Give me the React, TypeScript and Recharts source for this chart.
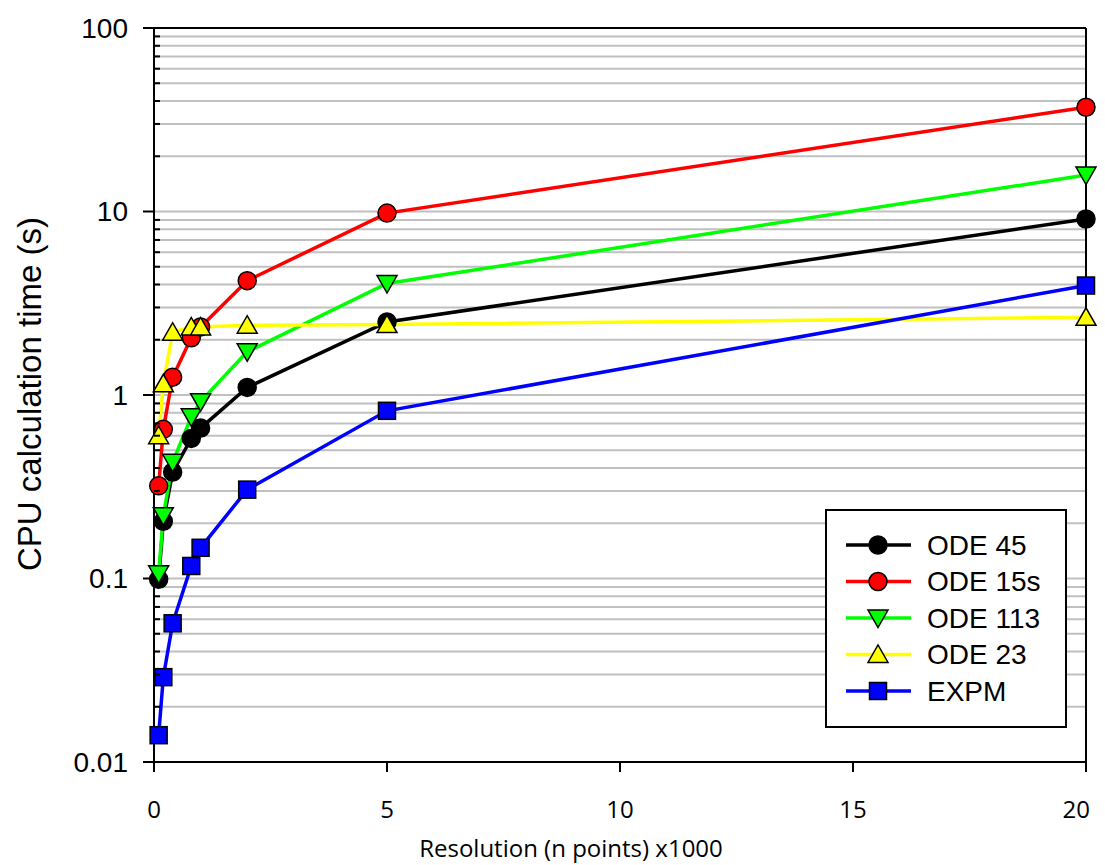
import { LineChart, Line, XAxis, YAxis, CartesianGrid, ReferenceLine, Label } from "recharts"

const xValues = [0.1, 0.2, 0.4, 0.8, 1, 2, 5, 20]
const ode45 = [0.099, 0.205, 0.38, 0.58, 0.66, 1.1, 2.5, 9.1]
const ode15s = [0.32, 0.65, 1.25, 2.05, 2.35, 4.2, 9.8, 37]
const ode113 = [0.106, 0.22, 0.43, 0.76, 0.92, 1.72, 4.05, 15.8]
const ode23 = [0.6, 1.15, 2.2, 2.35, 2.35, 2.4, 2.42, 2.65]
const expm = [0.014, 0.029, 0.057, 0.117, 0.147, 0.305, 0.82, 3.95]

const xTicks = [0, 5, 10, 15, 20]
const yMajorTicks = [0.01, 0.1, 1, 10, 100]
const yMinorSteps = [2, 3, 4, 5, 6, 7, 8, 9]

const yTicks = [
  ...yMajorTicks.slice(0, -1).flatMap((d) => [d, ...yMinorSteps.map((m) => m * d)]),
  100,
]

const data = xValues.map((x, i) => ({
  x,
  ode45: ode45[i],
  ode15s: ode15s[i],
  ode113: ode113[i],
  ode23: ode23[i],
  expm: expm[i],
}))

const series = [
  { key: "ode45", name: "ODE 45", color: "#000000", shape: "circle" },
  { key: "ode15s", name: "ODE 15s", color: "#ff0000", shape: "circle" },
  { key: "ode113", name: "ODE 113", color: "#00ff00", shape: "down" },
  { key: "ode23", name: "ODE 23", color: "#ffff00", shape: "up" },
  { key: "expm", name: "EXPM", color: "#0000ff", shape: "square" },
]

const ARIAL = "Arial, 'Liberation Sans', sans-serif"
const CALIBRI = "'Open Sans', 'Noto Sans', sans-serif"

function Marker({ cx, cy, shape, fill }: { cx?: number; cy?: number; shape: string; fill: string }) {
  if (cx == null || cy == null) return null
  const common = { fill, stroke: "#000", strokeWidth: 1.5 }
  if (shape === "circle") return <circle cx={cx} cy={cy} r={9} {...common} />
  if (shape === "square") return <rect x={cx - 8.5} y={cy - 8.5} width={17} height={17} {...common} />
  if (shape === "down")
    return <polygon points={`${cx - 10},${cy - 8} ${cx + 10},${cy - 8} ${cx},${cy + 9.5}`} {...common} />
  return <polygon points={`${cx - 10},${cy + 8} ${cx + 10},${cy + 8} ${cx},${cy - 9.5}`} {...common} />
}

function YTick(props: any) {
  const { x, y, payload } = props
  const major = yMajorTicks.includes(payload.value)
  return (
    <g>
      {major ? (
        <line x1={x - 11} x2={x} y1={y} y2={y} stroke="#000" strokeWidth={2} />
      ) : (
        <line x1={x} x2={x + 6} y1={y} y2={y} stroke="#000" strokeWidth={2} />
      )}
      {major && (
        <text x={x - 26} y={y} textAnchor="end" dominantBaseline="central" fontSize={28} fontFamily={ARIAL} fill="#000">
          {payload.value}
        </text>
      )}
    </g>
  )
}

function XTick(props: any) {
  const { x, y, payload } = props
  const last = payload.value === xTicks[xTicks.length - 1]
  return (
    <g>
      <line x1={x} x2={x} y1={y} y2={y + 10} stroke="#000" strokeWidth={2} />
      <text
        x={last ? x + 4 : x}
        y={y + 46}
        textAnchor={last ? "end" : "middle"}
        dominantBaseline="central"
        fontSize={24}
        fontFamily={CALIBRI}
        fill="#000"
      >
        {payload.value}
      </text>
    </g>
  )
}

function LegendBox() {
  return (
    <svg width={242} height={219} style={{ position: "absolute", left: 817, top: 501 }}>
      <rect x={1} y={1} width={240} height={217} fill="#fff" stroke="#000" strokeWidth={2} />
      {series.map((s, i) => {
        const cy = 36 + i * 36.5
        return (
          <g key={s.key}>
            <line x1={21} x2={86} y1={cy} y2={cy} stroke={s.color} strokeWidth={3.5} />
            <Marker cx={53} cy={cy} shape={s.shape} fill={s.color} />
            <text x={102} y={cy} dominantBaseline="central" fontSize={28} fontFamily={ARIAL} fill="#000">
              {s.name}
            </text>
          </g>
        )
      })}
    </svg>
  )
}

export default function App() {
  return (
    <div style={{ position: "relative", width: 1097, height: 857 }}>
      <LineChart width={1097} height={857} data={data} margin={{ top: 20, right: 19, bottom: 43, left: 0 }}>
        <CartesianGrid vertical={false} stroke="#c0c0c0" strokeWidth={2} />
        <XAxis
          dataKey="x"
          type="number"
          domain={[0, 20]}
          ticks={xTicks}
          height={60}
          tickSize={0}
          tickMargin={0}
          tick={<XTick />}
          axisLine={{ stroke: "#000", strokeWidth: 2 }}
          tickLine={false}
        >
          <Label
            content={() => (
              <text x={563} y={839} textAnchor="middle" dominantBaseline="central" fontSize={24} fontFamily={CALIBRI} fill="#000">
                Resolution (n points) x1000
              </text>
            )}
          />
        </XAxis>
        <YAxis
          scale="log"
          domain={[0.01, 100]}
          ticks={yTicks}
          allowDataOverflow
          width={146}
          interval={0}
          tickSize={0}
          tickMargin={0}
          tick={<YTick />}
          axisLine={{ stroke: "#000", strokeWidth: 2 }}
          tickLine={false}
        >
          <Label
            content={() => (
              <text
                x={21}
                y={386}
                transform="rotate(-90 21 386)"
                textAnchor="middle"
                dominantBaseline="central"
                fontSize={33}
                fontFamily={ARIAL}
                fill="#000"
              >
                CPU calculation time (s)
              </text>
            )}
          />
        </YAxis>
        <ReferenceLine y={100} stroke="#000" strokeWidth={2} />
        <ReferenceLine x={20} stroke="#000" strokeWidth={2} />
        {series.map((s) => (
          <Line
            key={s.key}
            dataKey={s.key}
            name={s.name}
            type="linear"
            stroke={s.color}
            strokeWidth={3.5}
            isAnimationActive={false}
            dot={(p: any) => <Marker key={`${s.key}-${p.index}`} cx={p.cx} cy={p.cy} shape={s.shape} fill={s.color} />}
            activeDot={false}
          />
        ))}
      </LineChart>
      <LegendBox />
    </div>
  )
}
